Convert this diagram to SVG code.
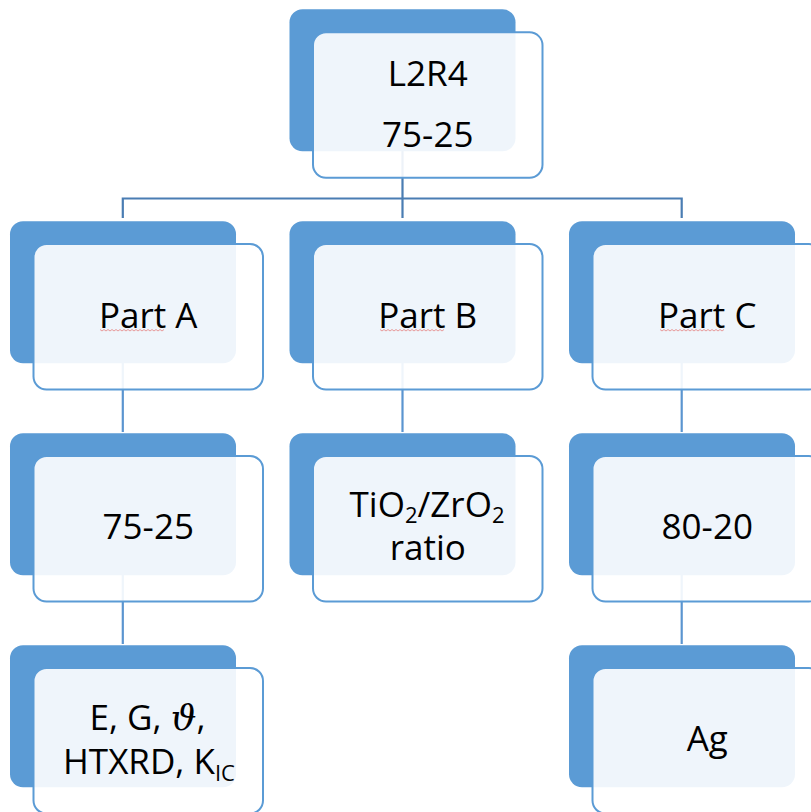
<svg xmlns="http://www.w3.org/2000/svg" xmlns:xlink="http://www.w3.org/1999/xlink" width="811" height="812" viewBox="0 0 811 812">
<style>
.back{fill:#5B9BD5;}
.front{fill:#FFFFFF;fill-opacity:0.9;stroke:#5B9BD5;stroke-width:2;}
.lbl{font-family:"Open Sans","Liberation Sans",sans-serif;font-size:35px;fill:#000;text-anchor:middle;}
.sub{font-size:22px;}
.conTop{stroke:#4A7DB3;stroke-width:2.2;fill:none;}
.con{stroke:#5B95D0;stroke-width:2.2;fill:none;}
.sq{stroke:#E79A9A;stroke-width:1;fill:none;}
</style>
<defs>
<path id="squig" d="M0,0 l2,1.5 l2,-1.5 l2,1.5 l2,-1.5 l2,1.5 l2,-1.5 l2,1.5 l2,-1.5 l2,1.5 l2,-1.5 l2,1.5 l2,-1.5 l2,1.5 l2,-1.5 l2,1.5 l2,-1.5 l2,1.5 l2,-1.5 l2,1.5 l2,-1.5 l2,1.5 l2,-1.5 l2,1.5 l2,-1.5 l2,1.5 l2,-1.5 l2,1.5 l2,-1.5 l2,1.5 l2,-1.5 l2,1.5 l2,-1.5"/>
</defs>
<g id="connectors">
<path class="conTop" d="M402.5,150 V198.5 M122.8,218 V198.5 H681.7 V218 M402.5,198.5 V218"/>
<path class="con" d="M122.8,363 V432"/>
<path class="con" d="M122.8,575 V644"/>
<path class="con" d="M402.5,363 V432"/>
<path class="con" d="M681.7,363 V432"/>
<path class="con" d="M681.7,575 V644"/>
</g>
<g id="node-root">
<rect class="back" x="289.5" y="9.3" width="226" height="142" rx="13"/>
<rect class="front" x="313" y="32.3" width="229.5" height="145.5" rx="13"/>
<text class="lbl" x="427.75" y="86">L2R4</text>
<text class="lbl" x="427.75" y="146.7">75-25</text>
</g>
<g id="node-partA">
<rect class="back" x="10" y="221.3" width="226" height="142" rx="13"/>
<rect class="front" x="33.5" y="244" width="229.5" height="145.5" rx="13"/>
<text class="lbl" x="148.25" y="328">Part A</text>
<use xlink:href="#squig" class="sq" x="100" y="329.5"/>
</g>
<g id="node-partB">
<rect class="back" x="289.5" y="221.3" width="226" height="142" rx="13"/>
<rect class="front" x="313" y="244" width="229.5" height="145.5" rx="13"/>
<text class="lbl" x="427.75" y="328">Part B</text>
<use xlink:href="#squig" class="sq" x="380" y="329.5"/>
</g>
<g id="node-partC">
<rect class="back" x="569" y="221.3" width="226" height="142" rx="13"/>
<rect class="front" x="592.5" y="244" width="229.5" height="145.5" rx="13"/>
<text class="lbl" x="707.25" y="328">Part C</text>
<use xlink:href="#squig" class="sq" x="660" y="329.5"/>
</g>
<g id="node-a-ratio">
<rect class="back" x="10" y="433.3" width="226" height="142" rx="13"/>
<rect class="front" x="33.5" y="456" width="229.5" height="145.5" rx="13"/>
<text class="lbl" x="148.25" y="539">75-25</text>
</g>
<g id="node-b-ratio">
<rect class="back" x="289.5" y="433.3" width="226" height="142" rx="13"/>
<rect class="front" x="313" y="456" width="229.5" height="145.5" rx="13"/>
<text class="lbl" x="427" y="517">TiO<tspan class="sub" dy="6">2</tspan><tspan dy="-6">/ZrO</tspan><tspan class="sub" dy="6">2</tspan></text>
<text class="lbl" x="427.75" y="560">ratio</text>
</g>
<g id="node-c-ratio">
<rect class="back" x="569" y="433.3" width="226" height="142" rx="13"/>
<rect class="front" x="592.5" y="456" width="229.5" height="145.5" rx="13"/>
<text class="lbl" x="707.25" y="539">80-20</text>
</g>
<g id="node-a-props">
<rect class="back" x="10" y="645.3" width="226" height="142" rx="13"/>
<rect class="front" x="33.5" y="668" width="229.5" height="145.5" rx="13"/>
<text class="lbl" x="147.5" y="730">E, G, <tspan font-family="DejaVu Serif" font-style="italic" font-size="36">ϑ</tspan>,</text>
<text class="lbl" x="149" y="774">HTXRD, K<tspan class="sub" dy="7">IC</tspan></text>
</g>
<g id="node-c-ag">
<rect class="back" x="569" y="645.3" width="226" height="142" rx="13"/>
<rect class="front" x="592.5" y="668" width="229.5" height="145.5" rx="13"/>
<text class="lbl" x="707.25" y="750.7">Ag</text>
</g>
</svg>
